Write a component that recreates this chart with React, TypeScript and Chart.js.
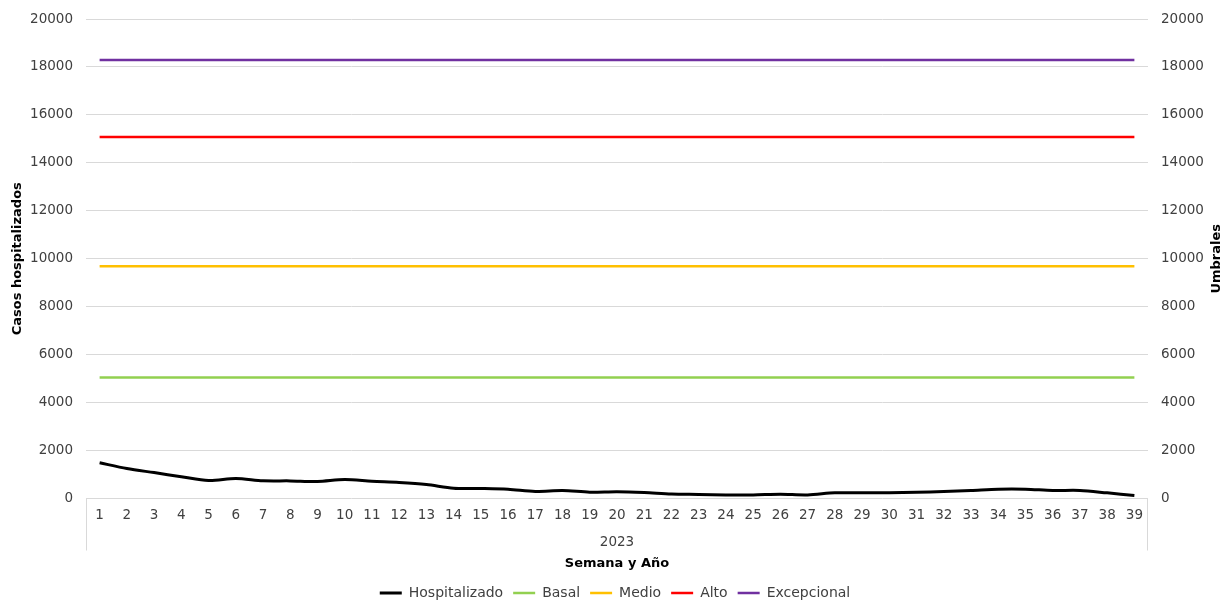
import React, { useEffect, useRef } from "react";
import { Chart, registerables } from "chart.js";

Chart.register(...registerables);

const weeks: string[] = [
  "1", "2", "3", "4", "5", "6", "7", "8", "9", "10",
  "11", "12", "13", "14", "15", "16", "17", "18", "19", "20",
  "21", "22", "23", "24", "25", "26", "27", "28", "29", "30",
  "31", "32", "33", "34", "35", "36", "37", "38", "39",
];
const yearLabel = "2023";

const hospitalizado: number[] = [
  1490, 1250, 1080, 910, 750, 830, 740, 735, 710, 790,
  720, 670, 585, 430, 420, 390, 295, 335, 265, 285,
  250, 185, 170, 150, 150, 175, 150, 235, 235, 245,
  265, 290, 335, 390, 390, 335, 335, 235, 125,
];

const BASAL = 5050;
const MEDIO = 9690;
const ALTO = 15080;
const EXCEPCIONAL = 18290;

const basal: number[] = weeks.map(() => BASAL);
const medio: number[] = weeks.map(() => MEDIO);
const alto: number[] = weeks.map(() => ALTO);
const excepcional: number[] = weeks.map(() => EXCEPCIONAL);

const FONT = "'DejaVu Sans', sans-serif";
const TICK_COLOR = "#404040";

const extrasPlugin = {
  id: "extras",
  afterDraw(chart: any) {
    const { ctx, chartArea } = chart;
    ctx.save();
    ctx.strokeStyle = "#d9d9d9";
    ctx.lineWidth = 1;
    ctx.beginPath();
    ctx.moveTo(chartArea.left + 0.5, chartArea.bottom);
    ctx.lineTo(chartArea.left + 0.5, chartArea.bottom + 52);
    ctx.moveTo(chartArea.right - 0.5, chartArea.bottom);
    ctx.lineTo(chartArea.right - 0.5, chartArea.bottom + 52);
    ctx.stroke();
    ctx.fillStyle = TICK_COLOR;
    ctx.font = `13.5px ${FONT}`;
    ctx.textAlign = "center";
    ctx.textBaseline = "middle";
    ctx.fillText(yearLabel, (chartArea.left + chartArea.right) / 2, chartArea.bottom + 44);
    ctx.fillStyle = "#000";
    ctx.font = `bold 13px ${FONT}`;
    ctx.translate(1217, (chartArea.top + chartArea.bottom) / 2);
    ctx.rotate(-Math.PI / 2);
    ctx.fillText("Umbrales", 0, 0);
    ctx.restore();
  },
};

export default function App() {
  const ref = useRef<HTMLCanvasElement | null>(null);

  useEffect(() => {
    document.body.style.margin = "0";
    const canvas = ref.current;
    if (!canvas) return;
    const lineDs = (label: string, data: number[], color: string, axis: string, width: number, tension = 0) => ({
      label,
      data,
      borderColor: color,
      backgroundColor: color,
      borderWidth: width,
      pointRadius: 0,
      pointHoverRadius: 0,
      tension,
      yAxisID: axis,
      fill: false,
    });
    const plain = (v: any) => String(v);
    const chart = new Chart(canvas, {
      type: "line",
      data: {
        labels: weeks,
        datasets: [
          lineDs("Hospitalizado", hospitalizado, "#000000", "y", 3, 0.3),
          lineDs("Basal", basal, "#92D050", "y2", 2.5),
          lineDs("Medio", medio, "#FFC000", "y2", 2.5),
          lineDs("Alto", alto, "#FF0000", "y2", 2.5),
          lineDs("Excepcional", excepcional, "#7030A0", "y2", 2.5),
        ],
      },
      options: {
        responsive: false,
        animation: false,
        devicePixelRatio: 1,
        layout: { padding: { top: 19, left: 0, right: 0, bottom: -8 } },
        plugins: {
          tooltip: { enabled: false },
          legend: {
            position: "bottom",
            labels: {
              boxWidth: 22,
              boxHeight: 0,
              padding: 10,
              color: TICK_COLOR,
              font: { family: FONT, size: 14 },
            },
          },
        },
        scales: {
          x: {
            type: "category",
            offset: true,
            grid: { display: false, drawTicks: false, offset: true },
            border: { display: false },
            ticks: {
              color: TICK_COLOR,
              font: { family: FONT, size: 13.5 },
              padding: 9,
              maxRotation: 0,
              autoSkip: false,
            },
            title: {
              display: true,
              text: "Semana y Año",
              color: "#000",
              font: { family: FONT, size: 13, weight: "bold" },
              padding: { top: 0, bottom: 5 },
            },
            afterFit(scale: any) {
              scale.height = 77.5;
            },
          },
          y: {
            position: "left",
            min: 0,
            max: 20000,
            grid: { color: "#d9d9d9", drawTicks: false, lineWidth: 1 },
            border: { display: false },
            ticks: {
              stepSize: 2000,
              color: TICK_COLOR,
              font: { family: FONT, size: 13.5 },
              padding: 13,
              callback: plain,
            },
            title: {
              display: true,
              text: "Casos hospitalizados",
              color: "#000",
              font: { family: FONT, size: 13, weight: "bold" },
              padding: { top: 10, bottom: 0 },
            },
            afterFit(scale: any) {
              scale.width = 86;
              scale.paddingTop = 0;
              scale.paddingBottom = 0;
            },
          },
          y2: {
            position: "right",
            min: 0,
            max: 20000,
            grid: { display: false, drawTicks: false },
            border: { display: false },
            ticks: {
              stepSize: 2000,
              color: TICK_COLOR,
              font: { family: FONT, size: 13.5 },
              padding: 13,
              callback: plain,
            },
            afterFit(scale: any) {
              scale.width = 82;
              scale.paddingTop = 0;
              scale.paddingBottom = 0;
            },
          },
        },
      },
      plugins: [extrasPlugin],
    } as any);
    return () => chart.destroy();
  }, []);

  return (
    <div style={{ width: 1230, height: 602, background: "#fff" }}>
      <canvas ref={ref} width={1230} height={602} style={{ display: "block" }} />
    </div>
  );
}
